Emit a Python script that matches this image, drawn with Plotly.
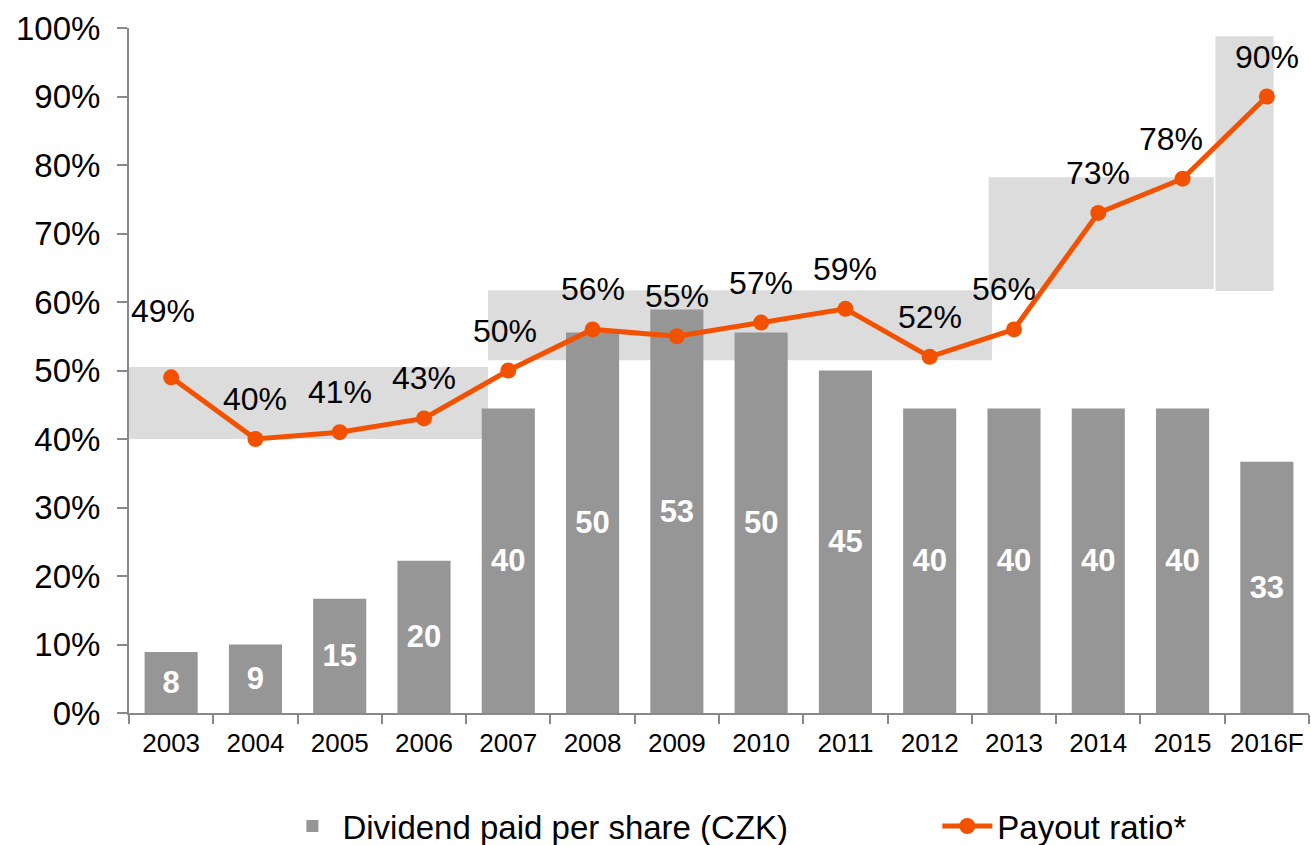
import plotly.graph_objects as go

years = ["2003", "2004", "2005", "2006", "2007", "2008", "2009", "2010",
         "2011", "2012", "2013", "2014", "2015", "2016F"]
dividend_czk = [8, 9, 15, 20, 40, 50, 53, 50, 45, 40, 40, 40, 40, 33]
payout_ratio = [0.49, 0.40, 0.41, 0.43, 0.50, 0.56, 0.55, 0.57, 0.59, 0.52,
                0.56, 0.73, 0.78, 0.90]
pct_ticks = [i / 10 for i in range(11)]

FONT = "Liberation Sans, Arial, sans-serif"
ORANGE = "#F25100"
GREY = "#969696"
BOX = "#DCDCDC"
AXIS = "#898989"

fig = go.Figure()

fig.add_trace(go.Bar(
    x=years, y=dividend_czk, yaxis="y", name="Dividend paid per share (CZK)",
    marker=dict(color=GREY, line=dict(width=0)), width=0.63,
    text=[str(v) for v in dividend_czk], textposition="inside",
    insidetextanchor="middle", constraintext="none",
    textfont=dict(family=FONT, size=31, color="white", weight="bold"),
    legend="legend",
))

fig.add_trace(go.Scatter(
    x=years, y=payout_ratio, yaxis="y2", name="Payout ratio*",
    mode="lines+markers",
    line=dict(color=ORANGE, width=5),
    marker=dict(color=ORANGE, size=16),
    legend="legend2",
))

# data labels above the payout points (x given as category index)
label_xshift = {0: -8, 4: -3, 10: -10, 12: -12}
for i, v in enumerate(payout_ratio):
    shift = 66 if i == 0 else 40
    fig.add_annotation(
        x=i, y=v, xref="x", yref="y2", text=f"{round(v*100)}%",
        showarrow=False, yshift=shift, xshift=label_xshift.get(i, 0),
        font=dict(family=FONT, size=32, color="black"),
    )

# grey highlight boxes (category index coordinates)
boxes = [(-0.64, 3.76, 0.400, 0.505), (3.76, 9.74, 0.515, 0.617),
         (9.70, 12.37, 0.619, 0.782), (12.39, 13.08, 0.616, 0.988)]
for x0, x1, y0, y1 in boxes:
    fig.add_shape(type="rect", xref="x", yref="y2", x0=x0, x1=x1, y0=y0, y1=y1,
                  fillcolor=BOX, line=dict(width=0), layer="below")

legend_font = dict(family=FONT, size=33, color="black")
fig.update_layout(
    width=1311, height=845,
    margin=dict(l=129, r=2, t=28, b=132, autoexpand=False),
    paper_bgcolor="white", plot_bgcolor="white",
    font=dict(family=FONT, color="black"),
    showlegend=True,
    legend=dict(orientation="h", x=0.13, xanchor="left", y=-0.165,
                yanchor="middle", font=legend_font, itemwidth=50,
                bgcolor="rgba(0,0,0,0)"),
    legend2=dict(orientation="h", x=0.685, xanchor="left", y=-0.165,
                 yanchor="middle", font=legend_font, itemwidth=50,
                 bgcolor="rgba(0,0,0,0)"),
    xaxis=dict(
        type="category", range=[-0.5, 13.5],
        showline=True, linecolor=AXIS, linewidth=2,
        ticks="outside", tickson="boundaries", ticklen=9, tickcolor=AXIS,
        tickwidth=2, tickfont=dict(family=FONT, size=26, color="black"),
        tickangle=0, ticklabelstandoff=6,
        showgrid=False, automargin=False,
    ),
    yaxis=dict(range=[0, 90], visible=False, showgrid=False),
    yaxis2=dict(
        range=[0, 1], overlaying="y", side="left",
        tickvals=pct_ticks, tickformat=".0%",
        showline=True, linecolor=AXIS, linewidth=2,
        ticks="outside", ticklen=10, tickcolor=AXIS, tickwidth=2,
        tickfont=dict(family=FONT, size=33, color="black"),
        ticklabelstandoff=10,
        showgrid=False, zeroline=False, automargin=False,
    ),
)

fig.write_html("out.html", config={"displayModeBar": False},
               post_script="document.body.style.margin='0';")
